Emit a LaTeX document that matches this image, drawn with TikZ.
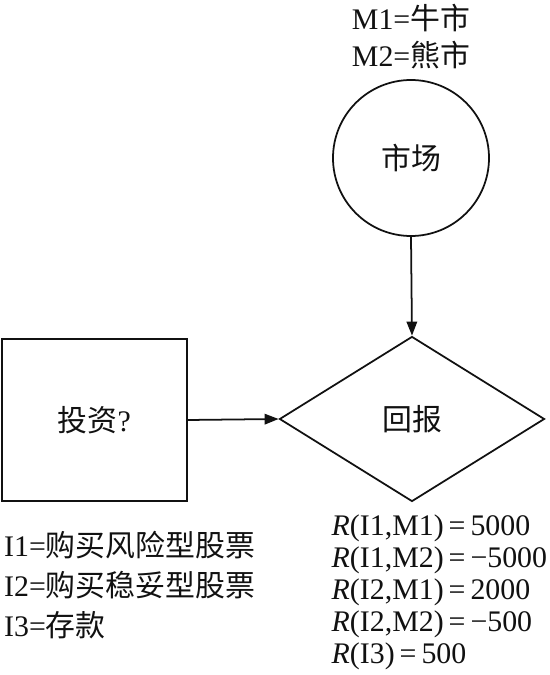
\documentclass[tikz,border=0pt]{standalone}
\usepackage{fontspec}
\setmainfont{Liberation Serif}
\newfontfamily\cjk{Noto Sans CJK SC}
\usetikzlibrary{shapes.geometric,arrows.meta}
\definecolor{ink}{HTML}{111111}

\begin{document}
\begin{tikzpicture}[
    line width=1pt, draw=ink,
    every node/.style={font=\fontsize{17}{20}\selectfont,text=ink},
    flow/.style={draw=ink,-{Triangle[length=8pt,width=6pt]}}
  ]
        \useasboundingbox (0,0) rectangle (11,13.5);
        % market and its states
        \node[circle,draw,minimum size=3.12cm,inner sep=0pt] (market) at (8.22,10.34) {{\cjk 市场}};
        \node (mone) at (8.22,13.14) {M1={\cjk 牛市}};
        \node (mtwo) at (8.22,12.40) {M2={\cjk 熊市}};
        % decision and payoff
        \node[draw,minimum width=3.7cm,minimum height=3.24cm,inner sep=0pt] (invest) at (1.89,5.10) {{\cjk 投资}?};
        \node[diamond,draw,minimum width=5.3cm,minimum height=3.3cm,inner sep=0pt] (payoff) at (8.24,5.12) {{\cjk 回报}};
        \draw[flow] (market.south) -- (payoff.north);
        \draw[flow] (invest.east) -- (payoff.west);
        % options
        \node[anchor=west] (ione) at (-0.05,2.60) {I1={\cjk 购买风险型股票}};
        \node[anchor=west] (itwo) at (-0.05,1.80) {I2={\cjk 购买稳妥型股票}};
        \node[anchor=west] (ithree) at (-0.05,1.00) {I3={\cjk 存款}};
        % payoffs
        \node[anchor=west,align=left,font=\fontsize{17}{18.2}\selectfont] (rlist) at (6.50,1.66)
          {\textit{R}(I1,M1)\,=\,5000\\
           \textit{R}(I1,M2)\,=\,−5000\\
           \textit{R}(I2,M1)\,=\,2000\\
           \textit{R}(I2,M2)\,=\,−500\\
           \textit{R}(I3)\,=\,500};
      \end{tikzpicture}
\end{document}
